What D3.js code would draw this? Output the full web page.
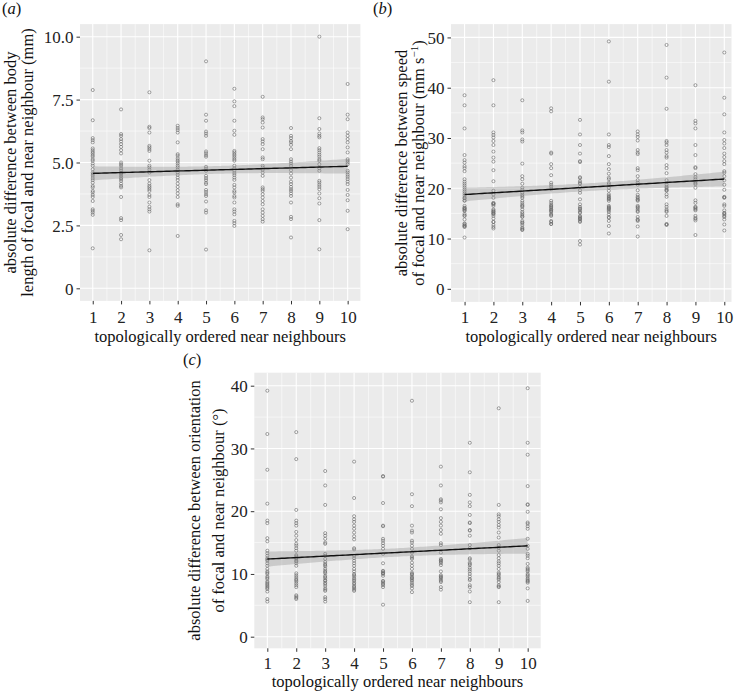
<!DOCTYPE html>
<html>
<head>
<meta charset="utf-8">
<script src="https://cdn.jsdelivr.net/npm/d3@7/dist/d3.min.js"></script>
<style>
  html, body { margin: 0; padding: 0; background: #ffffff; }
  svg { display: block; }
  text { font-family: "Liberation Serif", "DejaVu Serif", serif; }
</style>
</head>
<body>
<svg id="chart" width="738" height="692"></svg>
<script>
// ---------------- DATA ----------------
const neighbours = [1, 2, 3, 4, 5, 6, 7, 8, 9, 10];

// (a) absolute difference between body length (mm), one array per neighbour rank
const bodyDiff = [
  [7.88,6.68,5.97,5.89,5.80,5.56,5.49,5.42,5.36,5.29,5.23,5.13,5.07,4.96,4.87,4.73,4.60,4.54,4.47,4.38,4.30,4.20,4.07,4.01,3.87,3.81,3.71,3.63,3.47,3.14,3.08,3.01,2.92,1.59],
  [7.11,6.13,6.06,5.93,5.84,5.73,5.62,5.49,5.36,5.00,4.93,4.87,4.77,4.69,4.60,4.54,4.47,4.40,4.34,4.27,4.16,4.07,4.01,3.63,2.79,2.71,2.12,1.95],
  [7.79,6.42,6.37,6.19,5.66,5.60,5.53,5.46,5.07,4.87,4.80,4.71,4.60,4.30,4.16,4.07,4.01,3.94,3.87,3.71,3.63,3.41,3.24,3.14,3.05,1.51],
  [6.46,6.37,6.29,6.19,5.80,5.33,5.27,5.17,5.09,5.03,4.96,4.87,4.80,4.71,4.60,4.51,4.40,4.30,4.16,4.03,3.90,3.77,3.63,3.34,3.28,2.08],
  [9.02,6.90,6.66,6.23,6.15,6.06,5.44,5.37,5.29,5.23,4.83,4.76,4.67,4.47,4.38,4.30,4.20,4.14,3.91,3.83,3.74,3.67,3.45,3.10,3.01,1.54],
  [7.93,7.43,7.24,6.66,6.26,6.10,5.46,5.40,5.33,5.27,5.20,5.13,5.07,4.87,4.77,4.67,4.58,4.50,4.40,4.31,4.11,4.01,3.87,3.81,3.67,3.61,3.41,3.14,3.05,2.94,2.68,2.59,2.48],
  [7.61,6.79,6.72,6.59,6.39,5.93,5.84,5.73,5.53,5.20,5.13,4.87,4.80,4.71,4.60,4.47,4.01,3.94,3.87,3.74,3.61,3.47,3.34,3.14,3.01,2.88,2.75,2.65],
  [6.37,6.06,5.97,5.86,5.80,5.70,5.53,5.13,5.04,4.96,4.87,4.69,4.56,4.40,4.24,4.14,4.03,3.94,3.87,3.77,3.67,3.41,2.84,2.75,2.02],
  [10.0,6.76,6.33,6.15,6.06,6.00,5.57,5.49,5.40,5.31,5.23,5.13,5.07,4.93,4.77,4.67,4.27,4.20,4.11,4.03,3.94,3.77,3.58,3.37,2.71,1.55],
  [8.12,6.90,6.72,6.19,6.06,5.93,5.80,5.60,5.40,5.13,5.07,5.00,4.93,4.67,4.60,4.51,4.43,4.34,4.24,4.14,3.91,3.71,3.50,3.08,2.35]
];

// (b) absolute difference between speed (mm s^-1); includes overlapping markers in dense clusters
const speedDiff = [
  [38.5,36.5,31.9,26.6,25.6,25.1,24.4,24.0,23.4,21.8,21.3,20.9,20.5,20.1,19.7,19.3,18.9,18.5,18.0,17.5,16.5,16.1,15.8,15.5,14.9,14.5,13.8,12.9,12.6,12.3,10.2,
   12.4,12.6,15.6,15.9,16.1,17.6,18.1,14.6,13.0],
  [41.5,36.5,31.1,30.6,30.1,29.4,28.6,27.3,26.1,25.3,23.6,21.4,19.5,18.8,18.1,17.1,16.8,16.5,15.8,15.3,14.9,14.5,14.0,13.3,12.7,12.0,
   14.9,15.1,15.4,16.9,17.0,13.3,12.3,15.6],
  [37.5,31.5,31.1,29.7,29.3,24.9,22.4,21.8,20.9,20.1,19.7,19.1,18.7,18.1,17.5,16.7,16.3,15.8,15.3,14.7,14.3,13.5,13.1,12.7,12.2,11.7,
   11.8,12.0,13.2,14.4,15.0,16.5,17.1,18.4],
  [35.9,35.3,27.1,26.9,24.8,24.0,22.6,21.1,20.7,20.3,19.8,17.5,17.1,16.7,16.3,15.8,15.5,14.9,14.5,13.5,12.9,
   13.3,15.3,15.7,16.1,16.5,12.9,14.7],
  [33.6,30.7,28.6,26.9,25.4,25.2,22.2,22.0,21.4,20.9,20.3,19.6,19.1,17.8,16.8,16.0,15.6,15.1,14.5,14.1,13.8,13.3,9.5,8.8,
   13.9,14.3,15.3,15.9,13.5,16.3,21.1],
  [49.2,41.2,30.7,28.6,28.2,26.4,24.8,23.8,22.9,22.1,21.8,21.1,20.8,20.1,19.5,18.8,18.5,18.1,17.8,17.5,16.5,16.1,15.8,15.3,14.8,14.3,13.5,12.5,11.0,
   15.6,16.0,17.9,14.1,18.3,16.3],
  [31.3,30.7,30.2,29.5,27.6,27.1,26.8,24.0,23.6,22.4,21.6,21.1,20.7,19.6,18.7,18.3,17.8,17.5,16.5,16.1,15.8,15.5,14.3,13.8,13.5,12.4,10.4,
   15.3,16.3,17.7,13.7,18.1],
  [48.5,42.0,35.8,29.4,29.1,28.6,27.6,27.1,26.4,26.1,24.6,24.0,23.0,21.6,20.7,20.3,19.8,19.5,18.8,18.3,16.8,16.3,15.8,15.3,14.5,12.9,12.7,
   12.8,15.5,19.6,20.1],
  [40.5,33.4,32.9,31.9,28.6,26.6,24.2,24.0,22.8,22.2,21.8,21.3,20.8,20.1,17.6,17.1,16.3,16.0,15.6,14.5,14.1,13.6,10.7,
   13.9,15.8,16.2,21.0],
  [47.0,38.0,34.7,31.1,29.6,28.9,28.0,26.9,26.2,25.4,24.8,23.4,23.1,22.4,21.6,20.7,19.7,18.3,18.1,16.8,16.5,15.6,15.1,14.8,14.3,13.8,12.8,11.6,
   14.5,15.0,18.2]
];

// (c) absolute difference between orientation (degrees); includes overlapping markers
const orientDiff = [
  [39.2,32.3,26.6,21.2,18.5,18.1,15.7,15.2,13.7,13.3,12.9,12.5,12.1,11.7,11.3,10.8,10.4,10.0,9.6,9.2,8.8,8.4,8.0,7.6,7.2,6.0,5.6,
   7.8,8.2,8.6,9.4,10.2,12.3],
  [32.6,28.3,20.2,18.5,18.1,17.7,16.7,16.1,15.4,14.8,14.5,14.1,13.7,13.0,12.6,12.4,12.1,11.7,11.3,10.1,9.8,9.2,8.8,8.2,7.9,6.6,6.4,6.0,
   8.5,9.0,9.5,12.0,12.8,6.2],
  [26.4,24.1,21.0,16.5,16.1,15.6,15.0,14.8,13.2,12.9,12.4,11.9,11.6,11.2,10.8,10.5,10.1,9.7,9.3,8.9,8.6,8.1,7.7,7.3,6.3,6.0,5.6,
   7.5,8.4,9.0,9.5,10.3,11.4],
  [27.9,22.1,19.2,18.7,18.3,17.7,17.2,16.6,16.0,15.5,14.1,13.9,12.9,12.5,12.1,11.7,11.3,10.8,10.4,10.0,9.6,9.3,8.9,8.6,8.1,7.7,7.3,
   7.5,7.9,8.4,9.1,9.8],
  [25.6,25.5,21.3,17.7,17.6,15.6,15.3,14.9,14.5,14.0,13.2,11.7,10.5,10.2,10.0,8.9,8.6,8.2,7.9,5.1,
   8.4,8.8,10.1,10.4,9.7],
  [37.6,22.7,20.8,17.7,16.9,16.6,15.3,15.0,14.5,14.0,13.4,12.8,12.4,11.8,11.3,10.8,10.2,9.9,9.6,9.3,8.9,8.6,8.1,7.7,7.1,
   8.3,9.1,9.4,10.0,12.6],
  [27.1,24.1,21.9,21.7,21.4,20.3,18.9,18.3,17.7,17.0,16.4,14.9,14.6,13.4,12.4,12.1,11.7,11.4,10.4,9.8,9.6,9.3,8.9,7.9,7.5,
   8.7,9.1,9.5,11.9,12.2],
  [30.9,26.2,22.6,21.4,20.8,19.4,18.2,18.1,17.0,16.9,16.1,14.6,14.1,12.5,12.3,11.8,11.4,11.0,10.4,10.0,9.2,8.2,7.9,7.2,5.5,
   9.0,9.6,10.7,11.6],
  [36.4,21.0,19.5,19.2,18.7,18.3,17.8,17.4,16.6,15.8,14.6,14.2,13.7,13.0,12.5,11.7,11.3,10.8,10.2,9.8,9.5,9.1,8.7,8.2,7.9,5.5,
   8.0,9.3,10.0,12.0],
  [39.6,30.9,29.0,24.0,21.1,21.0,19.9,18.2,18.0,17.6,17.2,15.6,14.5,14.0,13.2,12.9,12.5,11.6,11.0,10.8,10.4,10.0,9.6,9.3,8.9,8.6,7.7,5.7,
   8.8,9.1,9.8,10.6]
];

// tick values and labels
const bodyTicks = [0, 2.5, 5, 7.5, 10];
const bodyTickLabels = ["0", "2.5", "5.0", "7.5", "10.0"];
const speedTicks = [0, 10, 20, 30, 40, 50];
const orientTicks = [0, 10, 20, 30, 40];
const xTickLabels = ["1","2","3","4","5","6","7","8","9","10"];

const xTitle = "topologically ordered near neighbours";

// ---------------- DRAWING ----------------
const svg = d3.select("#chart");
const SERIF = '"Liberation Serif", "DejaVu Serif", serif';
const T_CRIT = 1.969;

function linFit(xs, ys) {
  const n = xs.length;
  const mx = d3.mean(xs), my = d3.mean(ys);
  let sxx = 0, sxy = 0;
  for (let i = 0; i < n; i++) { sxx += (xs[i]-mx)**2; sxy += (xs[i]-mx)*(ys[i]-my); }
  const b = sxy / sxx, a = my - b * mx;
  let sse = 0;
  for (let i = 0; i < n; i++) { const r = ys[i] - (a + b*xs[i]); sse += r*r; }
  const s = Math.sqrt(sse / (n - 2));
  return { a, b, s, n, mx, sxx };
}

function drawPanel(cfg) {
  const g = svg.append("g");
  const x = d3.scaleLinear().domain(cfg.xDomain).range([cfg.left, cfg.right]);
  const y = d3.scaleLinear().domain(cfg.yDomain).range([cfg.bottom, cfg.top]);

  g.append("rect")
    .attr("x", cfg.left).attr("y", cfg.top)
    .attr("width", cfg.right - cfg.left).attr("height", cfg.bottom - cfg.top)
    .attr("fill", "#EBEBEB");

  const xMinor = neighbours.slice(0, -1).map(v => v + 0.5);
  const yMinor = cfg.yTicks.slice(0, -1).map((v, i) => (v + cfg.yTicks[i+1]) / 2);
  g.selectAll(null).data(xMinor).join("line")
    .attr("x1", d => x(d)).attr("x2", d => x(d))
    .attr("y1", cfg.top).attr("y2", cfg.bottom)
    .attr("stroke", "#ffffff").attr("stroke-width", 0.55);
  g.selectAll(null).data(yMinor).join("line")
    .attr("y1", d => y(d)).attr("y2", d => y(d))
    .attr("x1", cfg.left).attr("x2", cfg.right)
    .attr("stroke", "#ffffff").attr("stroke-width", 0.55);
  g.selectAll(null).data(neighbours).join("line")
    .attr("x1", d => x(d)).attr("x2", d => x(d))
    .attr("y1", cfg.top).attr("y2", cfg.bottom)
    .attr("stroke", "#ffffff").attr("stroke-width", 1.1);
  g.selectAll(null).data(cfg.yTicks).join("line")
    .attr("y1", d => y(d)).attr("y2", d => y(d))
    .attr("x1", cfg.left).attr("x2", cfg.right)
    .attr("stroke", "#ffffff").attr("stroke-width", 1.1);

  const pts = [];
  cfg.values.forEach((arr, i) => arr.forEach(v => pts.push({ x: neighbours[i], y: v })));
  g.selectAll(null).data(pts).join("circle")
    .attr("cx", d => x(d.x)).attr("cy", d => y(d.y)).attr("r", 1.55)
    .attr("fill", "none").attr("stroke", "#666666").attr("stroke-width", 0.6);

  const fit = linFit(pts.map(p => p.x), pts.map(p => p.y));
  const grid = d3.range(1, 10.0001, 0.1);
  const band = grid.map(xv => {
    const yh = fit.a + fit.b * xv;
    const se = fit.s * Math.sqrt(1 / fit.n + (xv - fit.mx) ** 2 / fit.sxx);
    return { x: xv, y: yh, lo: yh - T_CRIT * se, hi: yh + T_CRIT * se };
  });
  g.append("path").datum(band)
    .attr("d", d3.area().x(d => x(d.x)).y0(d => y(d.lo)).y1(d => y(d.hi)))
    .attr("fill", "#999999").attr("fill-opacity", 0.4);
  g.append("path").datum(band)
    .attr("d", d3.line().x(d => x(d.x)).y(d => y(d.y)))
    .attr("fill", "none").attr("stroke", "#111111").attr("stroke-width", 1.4);

  const yAxis = d3.axisLeft(y).tickValues(cfg.yTicks)
    .tickFormat((d, i) => cfg.yTickLabels[i]).tickSize(3.5).tickPadding(3);
  const ya = g.append("g").attr("transform", `translate(${cfg.left},0)`).call(yAxis);
  const xAxis = d3.axisBottom(x).tickValues(neighbours)
    .tickFormat((d, i) => xTickLabels[i]).tickSize(3.5).tickPadding(3);
  const xa = g.append("g").attr("transform", `translate(0,${cfg.bottom})`).call(xAxis);
  [ya, xa].forEach(a => {
    a.attr("font-family", SERIF).attr("font-size", 17);
    a.select(".domain").remove();
    a.selectAll(".tick line").attr("stroke", "#333333").attr("stroke-width", 1);
    a.selectAll(".tick text").attr("fill", "#222222")
      .style("font-family", SERIF).style("font-size", "17px");
  });
  xa.selectAll(".tick text").attr("y", cfg.xTickBase - cfg.bottom).attr("dy", 0);
  ya.selectAll(".tick text").attr("dy", "0.34em");

  g.append("text")
    .attr("x", (cfg.left + cfg.right) / 2).attr("y", cfg.xTitleBase)
    .attr("text-anchor", "middle").attr("fill", "#111")
    .style("font-family", SERIF).style("font-size", "16.5px").text(xTitle);

  const cy = (cfg.top + cfg.bottom) / 2;
  cfg.yTitle.forEach((line, i) => {
    const t = g.append("text")
      .attr("transform", `translate(${cfg.yTitleX[i]},${cy}) rotate(-90)`)
      .attr("text-anchor", "middle").attr("fill", "#111")
      .style("font-family", SERIF).style("font-size", "16.5px");
    line.forEach(part => {
      const ts = t.append("tspan").text(part.t);
      if (part.sup) ts.attr("baseline-shift", "super").style("font-size", "11px");
    });
  });

  const lab = g.append("text").attr("x", cfg.labX).attr("y", cfg.labY)
    .attr("fill", "#111").style("font-family", SERIF).style("font-size", "16.5px");
  lab.append("tspan").text("(");
  lab.append("tspan").style("font-style", "italic").text(cfg.label);
  lab.append("tspan").text(")");
}

drawPanel({
  values: bodyDiff, label: "a",
  left: 80, right: 360.4, top: 24.1, bottom: 300.9,
  xDomain: [0.55, 10.45], yDomain: [-0.5, 10.5],
  yTicks: bodyTicks, yTickLabels: bodyTickLabels,
  xTickBase: 323, xTitleBase: 342,
  yTitle: [[{t: "absolute difference between body"}], [{t: "length of focal and near neighbour (mm)"}]],
  yTitleX: [16, 33],
  labX: 2, labY: 14
});

drawPanel({
  values: speedDiff, label: "b",
  left: 451, right: 731.5, top: 24.1, bottom: 301.9,
  xDomain: [0.53, 10.25], yDomain: [-2.6, 52.65],
  yTicks: speedTicks, yTickLabels: speedTicks.map(String),
  xTickBase: 323, xTitleBase: 342,
  yTitle: [[{t: "absolute difference between speed"}], [{t: "of focal and near neighbour (mm s"}, {t: "−1", sup: true}, {t: ")"}]],
  yTitleX: [407, 424],
  labX: 373, labY: 14
});

drawPanel({
  values: orientDiff, label: "c",
  left: 254.3, right: 540.7, top: 372.7, bottom: 648.3,
  xDomain: [0.55, 10.45], yDomain: [-1.85, 42.07],
  yTicks: orientTicks, yTickLabels: orientTicks.map(String),
  xTickBase: 669.5, xTitleBase: 687,
  yTitle: [[{t: "absolute difference between orientation"}], [{t: "of focal and near neighbour (°)"}]],
  yTitleX: [200, 224],
  labX: 183, labY: 365
});
</script>
</body>
</html>
